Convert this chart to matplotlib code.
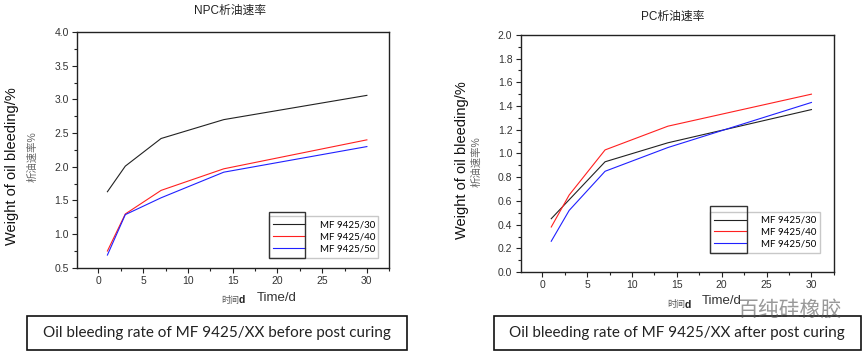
import matplotlib
matplotlib.use("Agg")
import matplotlib.pyplot as plt
from matplotlib.patches import Rectangle
from matplotlib.ticker import MultipleLocator, FormatStrFormatter

plt.rcParams['font.family'] = ['Liberation Sans', 'Noto Sans CJK SC', 'DejaVu Sans']

# data
days = [1, 3, 7, 14, 30]
labels = ["MF 9425/30", "MF 9425/40", "MF 9425/50"]
colors = ["#222222", "#ff2020", "#2020ff"]

npc_30 = [1.63, 2.01, 2.42, 2.70, 3.06]
npc_40 = [0.75, 1.30, 1.65, 1.97, 2.40]
npc_50 = [0.69, 1.29, 1.54, 1.92, 2.30]

pc_30 = [0.45, 0.61, 0.93, 1.09, 1.37]
pc_40 = [0.38, 0.65, 1.03, 1.23, 1.50]
pc_50 = [0.26, 0.52, 0.85, 1.05, 1.43]

fig = plt.figure(figsize=(8.65, 3.52), dpi=100)
W, H = 865.0, 352.0


def px(x, y):
    # pixel position (from top-left) -> figure fraction
    return x / W, 1 - y / H


def panel(rect, series, title, title_xy, ylim, ymaj, leg_box, divider,
          ylab_xy, ycn_xy, xcn_xy, xen_xy, caption, cap_rect):
    ax = fig.add_axes(rect)
    for vals, lab, c in zip(series, labels, colors):
        ax.plot(days, vals, color=c, lw=0.8, label=lab)
    ax.set_xlim(-2.4, 32.5)
    ax.set_ylim(*ylim)
    ax.xaxis.set_major_locator(MultipleLocator(5))
    ax.xaxis.set_minor_locator(MultipleLocator(2.5))
    ax.yaxis.set_major_locator(MultipleLocator(ymaj))
    ax.yaxis.set_minor_locator(MultipleLocator(ymaj / 2))
    ax.yaxis.set_major_formatter(FormatStrFormatter('%.1f'))
    ax.tick_params(which='both', direction='out', labelsize=7.5, width=0.8,
                   colors='#222222', labelcolor='#333333')
    ax.tick_params(which='major', length=3.5, pad=2.5)
    ax.tick_params(which='minor', length=2)
    for s in ax.spines.values():
        s.set_linewidth(1.0)
        s.set_color('#222222')

    leg = ax.legend(loc='lower left', bbox_to_anchor=leg_box, mode='expand',
                    fontsize=6.8, frameon=True, fancybox=False, handlelength=3.3,
                    handletextpad=1.5, labelspacing=0.3, borderaxespad=0,
                    borderpad=0.45, prop={'family': ['Lato', 'DejaVu Sans'], 'size': 7})
    leg.get_frame().set_edgecolor('#bbbbbb')
    leg.get_frame().set_linewidth(1.0)
    ax.add_patch(Rectangle((leg_box[0], leg_box[1]), divider - leg_box[0], leg_box[3],
                           transform=ax.transAxes, fill=False, ec='#333333', lw=1.0, zorder=10))

    tx, ty = px(*title_xy)
    fig.text(tx, ty, title, fontsize=8.5, ha='center', va='center', color='#222222')

    # axis labels
    x, y = px(*ylab_xy)
    fig.text(x, y, "Weight of oil bleeding/%", rotation=90,
             fontsize=10.5, ha='center', va='center', color='#111111')
    x, y = px(*ycn_xy)
    fig.text(x, y, "析油速率%", rotation=90,
             fontsize=7.5, ha='center', va='center', color='#666666')
    x, y = px(*xcn_xy)
    fig.text(x, y, "时间", fontsize=6.5, ha='right', va='center', color='#555555')
    fig.text(x, y, "d", fontsize=7.5, ha='left', va='center',
             color='#222222', fontweight='bold')
    x, y = px(*xen_xy)
    fig.text(x, y, "Time/d", fontsize=9.5, ha='left', va='center', color='#333333')

    # caption box
    cx, cy, cw, ch = cap_rect
    fig.patches.append(Rectangle((cx, cy), cw, ch, transform=fig.transFigure,
                                 fill=False, ec='#111111', lw=1.2))
    fig.text(cx + cw / 2, cy + ch / 2, caption, fontsize=11, family=['Lato', 'DejaVu Sans'],
             ha='center', va='center', color='#222222')
    return ax


panel([0.089, 0.239, 0.361, 0.670], [npc_30, npc_40, npc_50], "NPC析油速率", (230, 11),
      (0.5, 4.0), 0.5, (0.615, 0.042, 0.35, 0.195), 0.731,
      (12, 166), (32, 157), (239, 300), (257, 298),
      "Oil bleeding rate of MF 9425/XX before post curing", (0.031, 0.006, 0.44, 0.096))

panel([0.602, 0.227, 0.362, 0.674], [pc_30, pc_40, pc_50], "PC析油速率", (673, 17),
      (0.0, 2.0), 0.2, (0.604, 0.080, 0.351, 0.198), 0.723,
      (462, 160), (476, 162), (685, 305), (702, 301),
      "Oil bleeding rate of MF 9425/XX after post curing", (0.571, 0.006, 0.424, 0.096))

# watermark
fig.text(0.913, 0.12, "百纯硅橡胶", fontsize=15, ha='center', va='center',
         color='#555555', alpha=0.6, zorder=20)

fig.savefig("out.png", dpi=100)
